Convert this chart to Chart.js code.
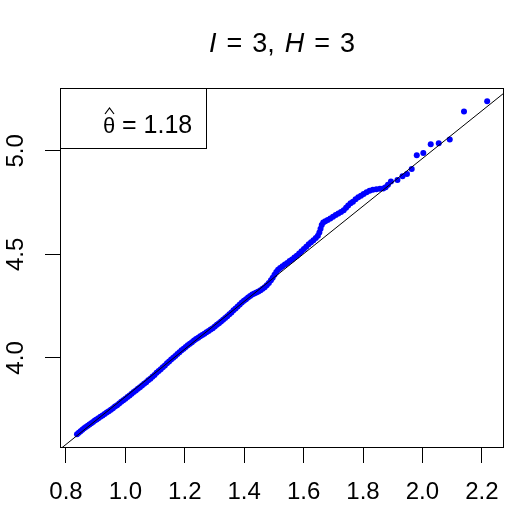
<!DOCTYPE html>
<html>
<head>
<meta charset="utf-8">
<title>QQ plot</title>
<script src="https://cdn.jsdelivr.net/npm/chart.js@4.4.0/dist/chart.umd.min.js"></script>
<style>
  html, body { margin: 0; padding: 0; background: #fff; }
  #wrap { width: 509px; height: 509px; }
</style>
</head>
<body>
<div id="wrap"><canvas id="qqChart" width="509" height="509"></canvas></div>
<script>
// Data
const theoretical = [
  0.837, 0.843, 0.849, 0.855, 0.861, 0.867, 0.873, 0.879, 0.885, 0.891,
  0.897, 0.903, 0.909, 0.916, 0.923, 0.930, 0.937, 0.944, 0.951, 0.958,
  0.965, 0.972, 0.979, 0.986, 0.993, 1.000, 1.007, 1.014, 1.021, 1.028,
  1.035, 1.042, 1.049, 1.056, 1.063, 1.070, 1.077, 1.084, 1.091, 1.098,
  1.105, 1.112, 1.119, 1.126, 1.133, 1.140, 1.147, 1.154, 1.161, 1.168,
  1.175, 1.182, 1.189, 1.196, 1.203, 1.210, 1.217, 1.224, 1.231, 1.238,
  1.245, 1.252, 1.259, 1.266, 1.273, 1.280, 1.287, 1.294, 1.301, 1.308,
  1.315, 1.322, 1.329, 1.336, 1.343, 1.350, 1.357, 1.364, 1.371, 1.378,
  1.385, 1.392, 1.399, 1.406, 1.413, 1.420, 1.427, 1.434, 1.441, 1.448,
  1.455, 1.462, 1.469, 1.476, 1.483, 1.490, 1.496, 1.502, 1.508, 1.514,
  1.521, 1.529, 1.537, 1.545, 1.553, 1.561, 1.569, 1.577, 1.585, 1.593,
  1.601, 1.609, 1.617, 1.625, 1.633, 1.641, 1.648, 1.653, 1.657, 1.661,
  1.666, 1.673, 1.681, 1.690, 1.699, 1.708, 1.717, 1.726, 1.735, 1.743,
  1.750, 1.758, 1.766, 1.775, 1.784, 1.793, 1.802, 1.812, 1.822, 1.833,
  1.845, 1.857, 1.868, 1.876, 1.884, 1.894, 1.916, 1.933, 1.948, 1.964,
  1.981, 2.003, 2.028, 2.055, 2.092, 2.140, 2.218
]
const sample = [
  3.632, 3.639, 3.646, 3.653, 3.660, 3.666, 3.673, 3.679, 3.685, 3.691,
  3.698, 3.703, 3.709, 3.716, 3.722, 3.729, 3.736, 3.743, 3.750, 3.757,
  3.765, 3.772, 3.780, 3.788, 3.796, 3.803, 3.811, 3.819, 3.827, 3.835,
  3.843, 3.851, 3.859, 3.867, 3.875, 3.883, 3.892, 3.900, 3.909, 3.918,
  3.928, 3.937, 3.946, 3.955, 3.964, 3.974, 3.983, 3.992, 4.001, 4.010,
  4.019, 4.028, 4.037, 4.045, 4.053, 4.061, 4.069, 4.076, 4.084, 4.091,
  4.098, 4.105, 4.111, 4.117, 4.124, 4.130, 4.137, 4.144, 4.152, 4.160,
  4.168, 4.176, 4.184, 4.193, 4.202, 4.211, 4.220, 4.230, 4.239, 4.249,
  4.258, 4.268, 4.276, 4.284, 4.292, 4.299, 4.306, 4.311, 4.316, 4.321,
  4.327, 4.334, 4.342, 4.351, 4.362, 4.375, 4.388, 4.402, 4.415, 4.426,
  4.435, 4.443, 4.451, 4.459, 4.468, 4.476, 4.485, 4.494, 4.504, 4.515,
  4.526, 4.537, 4.549, 4.559, 4.569, 4.579, 4.590, 4.606, 4.624, 4.642,
  4.654, 4.660, 4.666, 4.674, 4.682, 4.690, 4.698, 4.705, 4.713, 4.725,
  4.737, 4.747, 4.755, 4.766, 4.776, 4.784, 4.792, 4.800, 4.808, 4.812,
  4.815, 4.817, 4.819, 4.824, 4.837, 4.852, 4.860, 4.878, 4.888, 4.913,
  4.979, 4.990, 5.032, 5.037, 5.055, 5.190, 5.240
]
const xTicks = [0.8, 1.0, 1.2, 1.4, 1.6, 1.8, 2.0, 2.2]
const yTicks = [4.0, 4.5, 5.0]
const xRange = [0.7798, 2.2747]
const yRange = [3.565, 5.304]
const fitLine = { intercept: 2.6615, slope: 1.151 }
const thetaHat = 1.18

const fontFamily = "'Liberation Sans', Arial, Helvetica, sans-serif"
Chart.defaults.font.family = fontFamily
Chart.defaults.color = "#000"

const points = theoretical.map((x, i) => ({ x: x, y: sample[i] }))
const linePoints = xRange.map((x) => ({ x: x, y: fitLine.intercept + fitLine.slope * x }))

// Box, title and the theta legend, R style
const rDecor = {
  id: "rDecor",
  afterDraw(chart) {
    const ctx = chart.ctx
    const area = chart.chartArea
    ctx.save()
    ctx.strokeStyle = "#000"
    ctx.lineWidth = 1
    ctx.strokeRect(area.left + 0.5, area.top + 0.5, area.right - area.left - 1, area.bottom - area.top - 1)

    // Title: I = 3, H = 3
    const parts = [
      { t: "I", it: true }, { t: "=" }, { t: "3" }, { t: ",", tight: true },
      { t: "H", it: true }, { t: "=" }, { t: "3" }
    ]
    const gap = 10
    const size = 27
    let total = 0
    parts.forEach((p, i) => {
      ctx.font = (p.it ? "italic " : "") + size + "px " + fontFamily
      p.w = ctx.measureText(p.t).width
      total += p.w + (i > 0 && !p.tight ? gap : 0)
    })
    let x = (area.left + area.right) / 2 - total / 2
    ctx.fillStyle = "#000"
    ctx.textBaseline = "alphabetic"
    ctx.textAlign = "left"
    parts.forEach((p, i) => {
      if (i > 0 && !p.tight) x += gap
      ctx.font = (p.it ? "italic " : "") + size + "px " + fontFamily
      ctx.fillText(p.t, x, 52)
      x += p.w
    })

    // Legend box with theta hat
    const boxW = 146
    const boxH = 60
    ctx.strokeRect(area.left + 0.5, area.top + 0.5, boxW, boxH)
    ctx.font = "22px " + fontFamily
    ctx.fillText("\u03B8", area.left + 43, 133)
    ctx.beginPath()
    ctx.lineWidth = 1.2
    ctx.moveTo(area.left + 45, 114)
    ctx.lineTo(area.left + 49.5, 108)
    ctx.lineTo(area.left + 54, 114)
    ctx.stroke()
    ctx.font = "25px " + fontFamily
    ctx.fillText("= " + thetaHat.toFixed(2), area.left + 62, 133)
    ctx.restore()
  }
}

const ctx = document.getElementById("qqChart").getContext("2d")
const qqChart = new Chart(ctx, {
  type: "scatter",
  data: {
    datasets: [
      {
        type: "line",
        data: linePoints,
        borderColor: "#000",
        borderWidth: 1,
        pointRadius: 0,
        fill: false,
      },
      {
        data: points,
        backgroundColor: "#0000FF",
        borderWidth: 0,
        pointRadius: 3,
        pointHoverRadius: 3,
      },
    ],
  },
  options: {
    responsive: false,
    animation: false,
    devicePixelRatio: 1,
    layout: { padding: { top: 88, right: 5, left: 0, bottom: 0 } },
    plugins: {
      legend: { display: false },
      tooltip: { enabled: false },
      title: { display: false },
    },
    scales: {
      x: {
        type: "linear",
        min: xRange[0],
        max: xRange[1],
        afterBuildTicks: (scale) => {
          scale.ticks = xTicks.map((v) => ({ value: v }))
        },
        afterFit: (scale) => {
          scale.height = 61
          scale.paddingLeft = 0
          scale.paddingRight = 0
        },
        ticks: {
          font: { size: 24 },
          padding: 15,
          maxRotation: 0,
          autoSkip: false,
          callback: (v) => v.toFixed(1),
        },
        grid: {
          drawOnChartArea: false,
          tickLength: 15,
          tickColor: "#000",
          tickWidth: 1,
        },
        border: { display: false },
      },
      y: {
        type: "linear",
        min: yRange[0],
        max: yRange[1],
        afterBuildTicks: (scale) => {
          scale.ticks = yTicks.map((v) => ({ value: v }))
        },
        afterFit: (scale) => {
          scale.width = 60
          scale.paddingTop = 0
          scale.paddingBottom = 0
        },
        ticks: {
          font: { size: 24 },
          padding: 12,
          minRotation: 90,
          maxRotation: 90,
          crossAlign: "center",
          autoSkip: false,
          callback: (v) => v.toFixed(1),
        },
        grid: {
          drawOnChartArea: false,
          tickLength: 15,
          tickColor: "#000",
          tickWidth: 1,
        },
        border: { display: false },
      },
    },
  },
  plugins: [rDecor],
})
</script>
</body>
</html>
